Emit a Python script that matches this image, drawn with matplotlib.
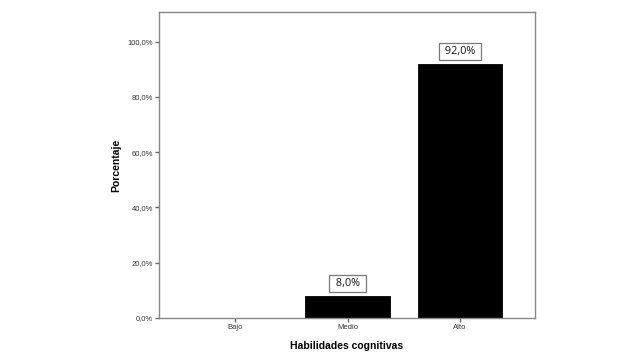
import matplotlib
matplotlib.use("Agg")
import matplotlib.pyplot as plt

categories = ["Bajo", "Medio", "Alto"]
values = [0.0, 8.0, 92.0]
yticks = [0, 20, 40, 60, 80, 100]

fig = plt.figure(figsize=(6.4, 3.6), dpi=100)
ax = fig.add_axes([159/640, 1 - 318/360, (535-159)/640, (318-12)/360])

x = list(range(len(categories)))
ax.bar(x, values, width=0.75, color="black", edgecolor="black", linewidth=0.6)
for xi, v in zip(x, values):
    if v > 0:
        label = f"{v:.1f}%".replace(".", ",")
        ax.annotate(" " + label + " ", xy=(xi, v), xytext=(0, 4.8),
                    textcoords="offset points", ha="center", va="bottom",
                    fontsize=7.8, family="Open Sans", color="#111111",
                    bbox=dict(boxstyle="square,pad=0.3", fc="white", ec="#777777", lw=0.9))

ax.set_xlim(-0.675, 2.665)
ax.set_ylim(0, 110.7)
ax.set_xticks(x)
ax.set_xticklabels(categories, family="Liberation Sans", fontsize=5.5, color="#333333")
ax.set_yticks(yticks)
ax.set_yticklabels([f"{t:.1f}%".replace(".", ",") for t in yticks],
                   family="Liberation Sans", fontsize=5.5, color="#333333")
for s in ax.spines.values():
    s.set_color("#888888")
    s.set_linewidth(1.0)
ax.tick_params(axis="both", color="#666666", length=3, width=1.0, pad=1.5)
ax.set_xlabel("Habilidades cognitivas", family="Liberation Sans", fontsize=7.5,
              fontweight="bold", labelpad=7)
ax.set_ylabel("Porcentaje", family="Liberation Sans", fontsize=7.5,
              fontweight="bold", labelpad=4)

fig.savefig("out.png", dpi=100)
